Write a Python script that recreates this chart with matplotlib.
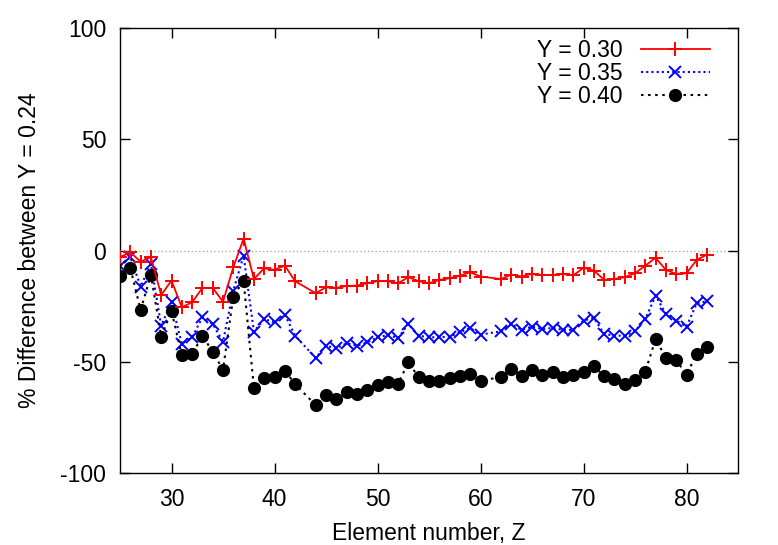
import matplotlib
matplotlib.use("Agg")
import matplotlib.pyplot as plt
import numpy as np

plt.rcParams['font.family'] = ['Liberation Sans', 'DejaVu Sans']
plt.rcParams['axes.unicode_minus'] = False

# Element numbers (Z=43 and Z=61 absent)
z = [25, 26, 27, 28, 29, 30, 31, 32, 33, 34, 35, 36, 37, 38, 39, 40, 41, 42,
     44, 45, 46, 47, 48, 49, 50, 51, 52, 53, 54, 55, 56, 57, 58, 59, 60,
     62, 63, 64, 65, 66, 67, 68, 69, 70, 71, 72, 73, 74, 75, 76, 77, 78, 79, 80, 81, 82]

y030 = [-3.0, -0.8, -5.0, -3.0, -20.0, -13.5, -25.5, -23.3, -16.8, -16.8, -23.0, -7.5, 5.3, -12.8, -8.0, -8.7, -6.8, -13.8,
        -19.2, -16.5, -16.8, -15.9, -15.8, -14.7, -13.8, -13.8, -14.7, -12.0, -13.8, -14.7, -13.2, -12.5, -11.3, -9.8, -11.7,
        -12.8, -10.8, -11.7, -10.5, -11.0, -11.0, -10.5, -11.2, -7.8, -9.0, -13.2, -12.8, -12.0, -10.2, -6.8, -3.3, -8.7, -10.5, -10.2, -4.2, -1.8]

y035 = [-7.0, -3.0, -16.2, -6.0, -33.8, -23.3, -42.0, -39.0, -30.0, -33.0, -41.0, -18.0, -2.3, -36.5, -30.8, -32.3, -28.8, -38.3,
        -48.3, -42.8, -44.0, -41.7, -42.8, -41.3, -39.0, -38.0, -39.3, -33.0, -38.3, -39.0, -39.0, -38.7, -36.8, -34.8, -37.8,
        -36.3, -33.0, -35.7, -34.2, -35.3, -34.8, -35.7, -35.7, -31.5, -30.3, -37.5, -38.3, -38.3, -36.3, -30.8, -20.3, -28.5, -31.5, -34.2, -23.7, -22.8]

y040 = [-11.6, -7.8, -26.7, -11.0, -38.7, -27.2, -47.0, -46.7, -38.3, -45.5, -53.6, -20.7, -13.5, -61.7, -57.3, -57.0, -54.0, -60.0,
        -69.5, -64.9, -66.8, -63.8, -64.3, -62.8, -60.5, -58.9, -59.8, -50.3, -57.0, -58.6, -58.6, -57.3, -56.6, -55.5, -58.6,
        -56.8, -53.3, -56.3, -53.7, -55.9, -54.4, -56.9, -55.9, -54.4, -51.8, -56.6, -57.8, -59.8, -58.3, -54.4, -39.8, -48.3, -49.2, -55.9, -46.3, -43.5]

labels = ["Y = 0.30", "Y = 0.35", "Y = 0.40"]
xticks = [30, 40, 50, 60, 70, 80]
yticks = [-100, -50, 0, 50, 100]

FS = 16.5

fig = plt.figure(figsize=(7.78, 5.45), dpi=100)
ax = fig.add_axes([120/778, 1-473/545, (738-120)/778, (473-28)/545])

ax.axhline(0, color='#a0a0a0', linestyle=(0, (1, 2)), linewidth=0.9, zorder=1)

ax.plot(z, y030, color='#ff0000', linestyle='-', linewidth=1.3, marker='+',
        markersize=10.5, markeredgewidth=1.4, label=labels[0], zorder=3)
ax.plot(z, y035, color='#0000ff', linestyle=(0, (1, 1.5)), linewidth=1.5, marker='x',
        markersize=9, markeredgewidth=1.4, label=labels[1], zorder=2)
ax.plot(z, y040, color='#000000', linestyle=(0, (1.2, 2.2)), linewidth=1.5, marker='o',
        markersize=9.5, markeredgewidth=0, label=labels[2], zorder=2.5)

ax.set_xlim(25, 85)
ax.set_ylim(-100, 100)
ax.set_xticks(xticks)
ax.set_yticks(yticks)
ax.tick_params(direction='in', length=7, width=1, top=True, right=True,
               labelsize=FS)
ax.tick_params(axis='x', pad=11)
ax.tick_params(axis='y', pad=10)
for s in ax.spines.values():
    s.set_linewidth(1.0)

ax.set_xlabel("Element number, Z", fontsize=FS, labelpad=8)
ax.set_ylabel("% Difference between Y = 0.24", fontsize=FS, labelpad=14)

leg = ax.legend(loc='upper right', bbox_to_anchor=(1 - 17/618, 1.0),
                frameon=False, markerfirst=False, fontsize=FS,
                handlelength=3.0, numpoints=1, labelspacing=0.0,
                borderaxespad=0.2, handletextpad=0.8, borderpad=0.3)

fig.savefig("out.png", dpi=100)
